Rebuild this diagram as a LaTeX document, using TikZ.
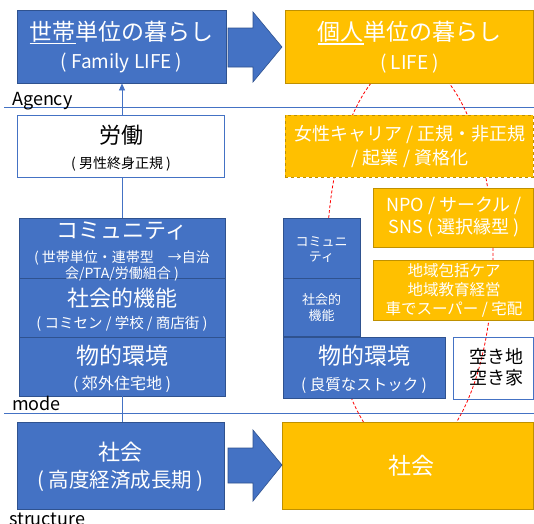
\documentclass[tikz,border=0pt]{standalone}
\usepackage{fontspec}
\setmainfont{Noto Sans CJK JP}
\usetikzlibrary{arrows.meta}
\definecolor{ofblue}{HTML}{4472C4}
\definecolor{ofblueD}{HTML}{2F528F}
\definecolor{oforange}{HTML}{FFC000}
\definecolor{oforangeD}{HTML}{BF9000}
\newcommand\fs[2]{\fontsize{#1}{#2}\selectfont}
\newcommand\ulx[1]{\setbox0\hbox{#1}\rlap{\rule[-4pt]{\wd0}{1.6pt}}\box0}
\begin{document}
\begin{tikzpicture}[x=1pt,y=-1pt,
  bbox/.style={draw=ofblueD, fill=ofblue, text=white, line width=0.8pt, inner sep=0pt, align=center},
  obox/.style={draw=oforangeD, fill=oforange, text=white, line width=0.8pt, inner sep=0pt, align=center},
  wbox/.style={draw=ofblue, text=black, line width=0.8pt, inner sep=0pt, align=center},
  sep/.style={draw=ofblue, line width=0.7pt},
  bigarrow/.style={draw=ofblueD, fill=ofblue, line width=0.6pt},
  txt/.style={align=center, inner sep=0pt, text=white},
  lbl/.style={anchor=base west, inner sep=0pt, text=black, font=\fs{18}{20}},
  conn/.style={draw=ofblue, line width=0.7pt}
]
\useasboundingbox (0,0) rectangle (534,523);
\fill[white] (0,0) rectangle (534,523);

% level lines
\coordinate (agL) at (4,107);
\coordinate (agR) at (534,107);
\coordinate (moL) at (4,413);
\coordinate (moR) at (534,413);
\draw[sep] (agL) -- (agR);
\draw[sep] (moL) -- (moR);

% red dashed ellipse
\draw[red, line width=0.8pt, dash pattern=on 3pt off 2pt] (410,258) ellipse [x radius=83, y radius=198];

% left column
\node[bbox, minimum width=209pt, minimum height=73pt] (fam) at (121.5,46.5) {};
\node[wbox, fill=white, minimum width=207pt, minimum height=62pt] (labor) at (121,146) {};
\node[bbox, minimum width=206pt, minimum height=60pt] (comm) at (122,248) {};
\node[bbox, minimum width=206pt, minimum height=59pt] (func) at (122,307.5) {};
\node[bbox, minimum width=206pt, minimum height=59pt] (phys) at (122,366.5) {};
\node[bbox, minimum width=207pt, minimum height=87pt] (soc) at (120.5,465.5) {};

% vertical connector, visible in the gaps
\draw[conn, -{Triangle[width=6pt,length=7pt]}] (labor.north -| 122,0) -- (fam.south -| 122,0);
\draw[conn] (labor.south -| 122,0) -- (comm.north -| 122,0);
\draw[conn] (phys.south -| 122,0) -- (soc.north -| 122,0);

% right column
\node[obox, minimum width=248pt, minimum height=73pt] (life) at (409,46.5) {};
\node[obox, dashed, minimum width=248pt, minimum height=62pt] (career) at (409,146) {};
\node[obox, minimum width=160pt, minimum height=59pt] (npo) at (453,217.5) {};
\node[obox, minimum width=160pt, minimum height=60pt] (care) at (453,290) {};
\node[bbox, minimum width=77pt, minimum height=60pt] (scomm) at (321.5,248) {};
\node[bbox, minimum width=77pt, minimum height=58pt] (sfunc) at (321.5,307) {};
\node[bbox, minimum width=162pt, minimum height=61pt] (rphys) at (364,367.5) {};
\node[wbox, minimum width=80pt, minimum height=62pt] (vacant) at (493,368) {};
\node[obox, minimum width=251pt, minimum height=87pt] (rsoc) at (407.5,465.5) {};

% block arrows
\draw[bigarrow] (228,28) -- (253,28) -- (253,12) -- (282,47) -- (253,82) -- (253,67) -- (228,67) -- cycle;
\draw[bigarrow] (228,448) -- (253,448) -- (253,430) -- (282,465) -- (253,501) -- (253,483) -- (228,483) -- cycle;

% texts
\node[txt, font=\fs{23}{28.5}] (famT) at (121.5,47) {\fs{23}{28.5}\ulx{世帯}単位の暮らし\\\fs{19}{28.5}( Family LIFE )};
\node[txt, font=\fs{23}{28.5}] (lifeT) at (409.5,47) {\fs{23}{28.5}\ulx{個人}単位の暮らし\\\fs{19}{28.5}( LIFE )};
\node[txt, text=black, font=\fs{22}{25}] (laborT) at (121,148.5) {\fs{22}{25}労働\\\fs{14}{25}( 男性終身正規 )};
\node[txt, font=\fs{14}{16}] (commT) at (122,252) {\fs{22}{16}コミュニティ\\[8pt]\fs{14}{16}( 世帯単位・連帯型　→自治\\\fs{14}{16}会/PTA/労働組合 )};
\node[txt, font=\fs{22}{22}] (funcT) at (122,309.5) {\fs{22}{22}社会的機能\\\fs{14.5}{22}( コミセン / 学校 / 商店街 )};
\node[txt, font=\fs{23}{25}] (physT) at (122,369) {\fs{23}{25}物的環境\\\fs{16}{25}( 郊外住宅地 )};
\node[txt, font=\fs{22}{27.5}] (socT) at (120.5,467) {\fs{22}{27.5}社会\\\fs{20.5}{27.5}( 高度経済成長期 )};

\node[txt, font=\fs{18}{24}] (careerT) at (410,147) {女性キャリア / 正規・非正規\\/ 起業 / 資格化};
\node[txt, font=\fs{18}{22}] (npoT) at (454,217) {NPO / サークル /\\SNS ( 選択縁型 )};
\node[txt, font=\fs{15.5}{19}] (careT) at (454,290) {地域包括ケア\\地域教育経営\\車でスーパー / 宅配};
\node[txt, font=\fs{13}{15.5}] (scommT) at (321.5,249.5) {コミュニ\\ティ};
\node[txt, font=\fs{13}{16}] (sfuncT) at (321.5,308) {社会的\\機能};
\node[txt, font=\fs{23}{26}] (rphysT) at (364,369.5) {\fs{23}{26}物的環境\\\fs{15.5}{26}( 良質なストック )};
\node[txt, text=black, font=\fs{18}{21}] (vacantT) at (496,367.5) {空き地\\空き家};
\node[txt, font=\fs{23}{28}] (rsocT) at (411,465.5) {社会};

% side labels
\node[lbl] (agency) at (12,105) {Agency};
\node[lbl] (mode) at (12,410) {mode};
\node[lbl] (structure) at (9,525) {structure};
\end{tikzpicture}
\end{document}
